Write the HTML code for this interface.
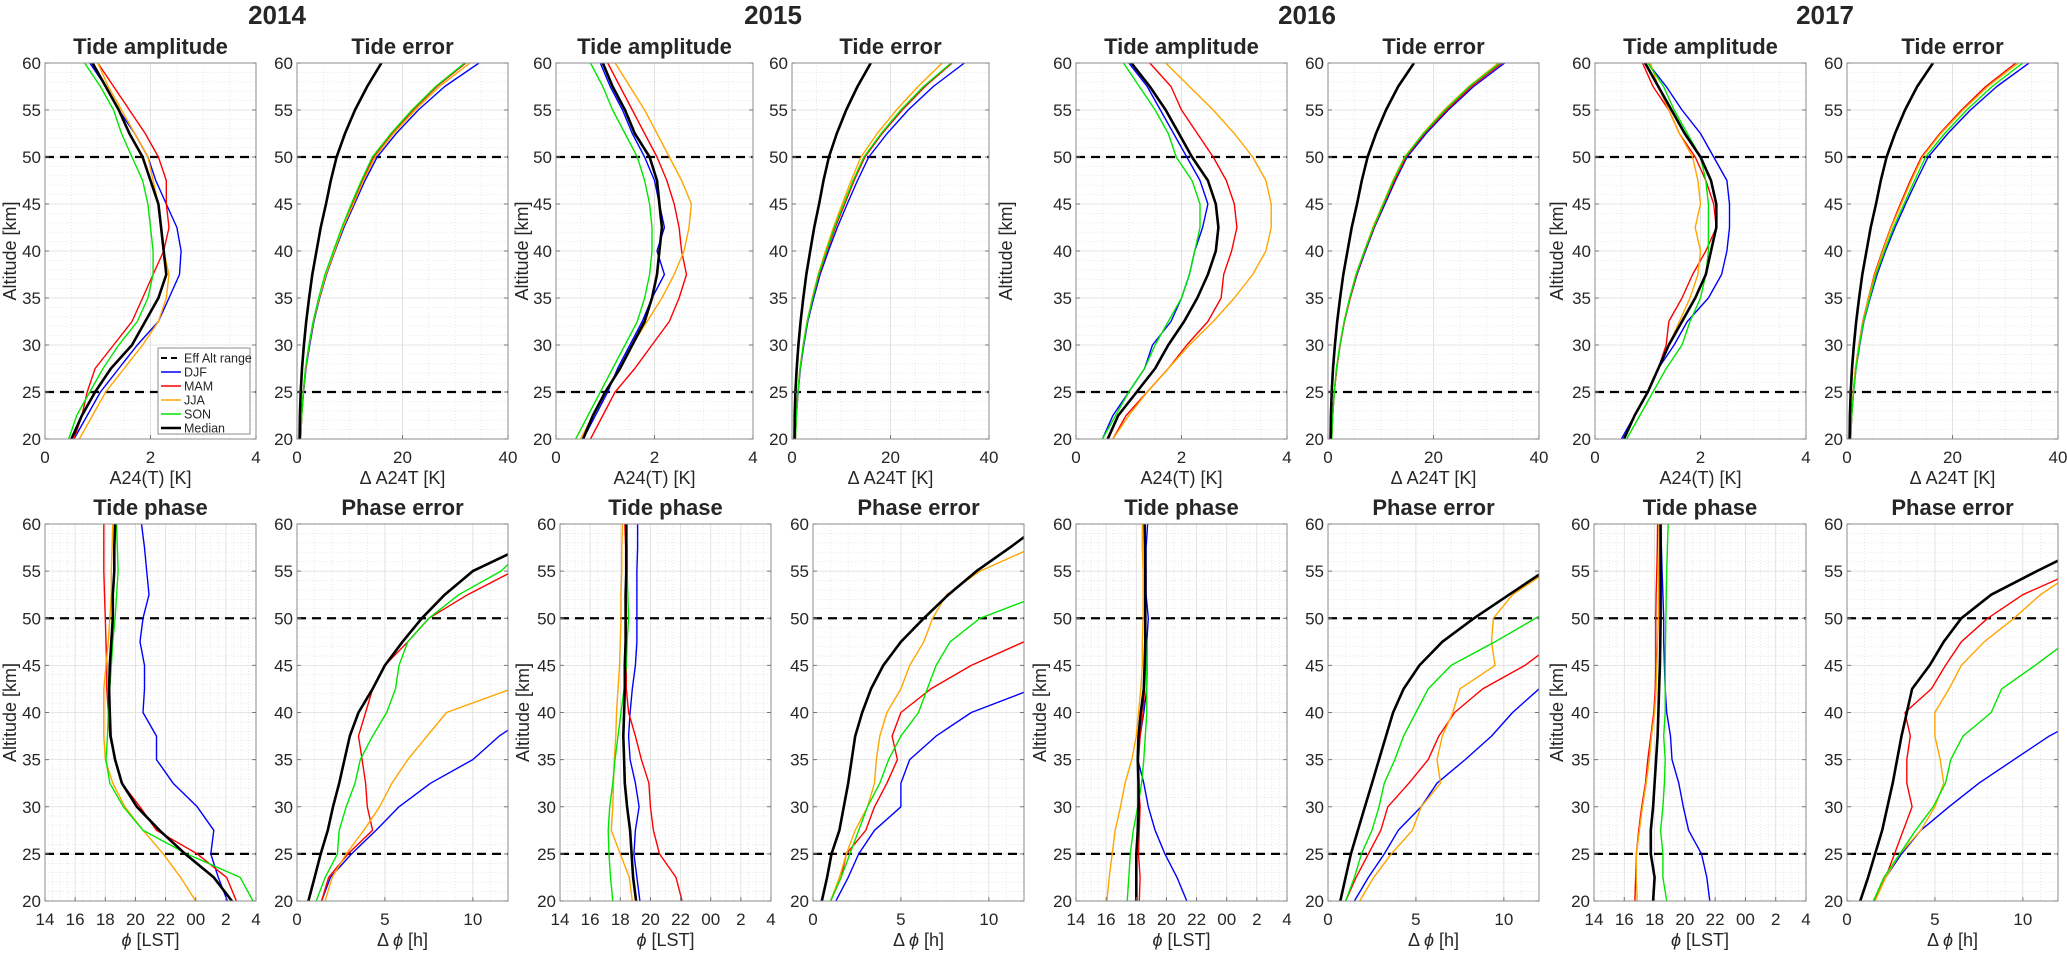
<!DOCTYPE html>
<html><head><meta charset="utf-8"><title>Tide profiles 2014-2017</title>
<style>
html,body{margin:0;padding:0;background:#fff;}
svg text{font-family:"Liberation Sans",sans-serif;fill:#262626;}
</style></head>
<body>
<svg id="fig" width="2067" height="950" viewBox="0 0 2067 950" xmlns="http://www.w3.org/2000/svg"></svg>
<script>
// ---------- data ----------
const alts = [20,22.5,25,27.5,30,32.5,35,37.5,40,42.5,45,47.5,50,52.5,55,57.5,60];
const effAltRange = [25,50];
const seasons = ['DJF','MAM','JJA','SON','Median'];
const years = ['2014','2015','2016','2017'];
const ampTicks = [0,2,4];
const errTicks = [0,20,40];
const phaseTicks = [14,16,18,20,22,24,26,28];
const phaseTickLabels = ['14','16','18','20','22','00','2','4'];
const perrTicks = [0,5,10];
const altTicks = [20,25,30,35,40,45,50,55,60];

// 2014 amplitude
const amp14_djf = [0.55,0.8,1.05,1.4,1.75,2.15,2.35,2.55,2.58,2.5,2.3,2.1,1.95,1.7,1.4,1.15,0.85];
const amp14_mam = [0.55,0.7,0.8,0.95,1.3,1.65,1.85,2.05,2.25,2.35,2.3,2.3,2.15,1.9,1.6,1.3,1.0];
const amp14_jja = [0.65,0.9,1.15,1.5,1.85,2.15,2.3,2.35,2.25,2.2,2.15,2.05,1.95,1.7,1.45,1.2,1.0];
const amp14_son = [0.45,0.6,0.85,1.1,1.4,1.75,1.95,2.05,2.05,2.0,1.95,1.85,1.65,1.45,1.3,1.05,0.75];
const amp14_med = [0.5,0.7,0.95,1.25,1.65,1.9,2.15,2.3,2.25,2.2,2.15,2.0,1.85,1.6,1.4,1.15,0.9];
// 2015 amplitude
const amp15_djf = [0.55,0.8,1.05,1.25,1.5,1.75,1.95,2.2,2.05,2.2,2.1,2.0,1.8,1.55,1.35,1.1,0.9];
const amp15_mam = [0.7,0.95,1.2,1.6,1.95,2.3,2.5,2.65,2.55,2.5,2.4,2.25,2.05,1.8,1.55,1.3,1.05];
const amp15_jja = [0.5,0.75,1.0,1.3,1.55,1.85,2.15,2.4,2.6,2.7,2.75,2.55,2.3,2.05,1.8,1.5,1.2];
const amp15_son = [0.4,0.65,0.9,1.15,1.4,1.65,1.8,1.9,1.95,1.95,1.9,1.8,1.65,1.4,1.15,0.95,0.7];
const amp15_med = [0.55,0.75,1.0,1.3,1.55,1.8,1.95,2.05,2.1,2.15,2.1,2.05,1.9,1.6,1.4,1.15,0.95];
// 2016 amplitude
const amp16_djf = [0.5,0.7,1.0,1.3,1.45,1.8,2.0,2.15,2.25,2.4,2.5,2.35,2.1,1.85,1.6,1.35,1.0];
const amp16_mam = [0.7,0.95,1.35,1.75,2.1,2.5,2.75,2.8,2.95,3.05,3.0,2.85,2.6,2.3,2.0,1.8,1.4];
const amp16_jja = [0.7,1.0,1.35,1.75,2.15,2.6,3.0,3.35,3.6,3.7,3.7,3.6,3.35,3.0,2.6,2.15,1.7];
const amp16_son = [0.5,0.75,1.0,1.3,1.5,1.75,2.0,2.15,2.25,2.35,2.35,2.2,1.9,1.75,1.5,1.2,0.9];
const amp16_med = [0.6,0.8,1.15,1.5,1.75,2.05,2.3,2.5,2.65,2.7,2.65,2.5,2.2,1.95,1.7,1.4,1.05];
// 2017 amplitude
const amp17_djf = [0.5,0.75,1.0,1.2,1.5,1.75,2.15,2.4,2.5,2.55,2.55,2.5,2.25,2.0,1.65,1.35,1.0];
const amp17_mam = [0.55,0.75,1.0,1.2,1.35,1.4,1.65,1.85,2.1,2.3,2.25,2.1,1.9,1.6,1.4,1.1,0.9];
const amp17_jja = [0.55,0.75,1.0,1.2,1.4,1.6,1.8,1.95,2.0,1.9,2.0,1.95,1.85,1.6,1.4,1.2,1.05];
const amp17_son = [0.6,0.85,1.1,1.35,1.65,1.8,2.0,2.1,2.15,2.15,2.15,2.1,2.0,1.75,1.5,1.3,1.0];
const amp17_med = [0.55,0.75,1.0,1.2,1.4,1.65,1.9,2.1,2.2,2.3,2.3,2.2,2.0,1.7,1.45,1.2,0.95];

// amplitude error (all years)
const err14_djf = [0.7,0.9,1.25,1.7,2.4,3.2,4.3,5.6,7.2,8.9,10.9,12.9,15.2,18.8,23,28,34.5];
const err14_mam = [0.7,0.9,1.2,1.65,2.3,3.1,4.2,5.4,7.0,8.6,10.5,12.4,14.5,18,22,26.5,32];
const err14_jja = [0.7,0.9,1.2,1.65,2.3,3.1,4.2,5.5,7.1,8.7,10.7,12.6,14.8,18.3,22.4,27,32.8];
const err14_son = [0.7,0.9,1.2,1.6,2.25,3.05,4.1,5.3,6.9,8.5,10.3,12.2,14.3,17.8,21.8,26.3,31.8];
const err14_med = [0.5,0.55,0.7,0.95,1.3,1.75,2.3,2.9,3.7,4.5,5.5,6.4,7.5,9.1,11,13.3,16];
const err15_djf = [0.7,0.9,1.25,1.7,2.4,3.2,4.4,5.7,7.4,9.2,11.2,13.3,15.6,19.3,23.6,28.7,35];
const err15_mam = [0.7,0.9,1.2,1.65,2.3,3.1,4.2,5.5,7.1,8.8,10.7,12.6,14.8,18.3,22.4,27,32.5];
const err15_jja = [0.7,0.9,1.2,1.6,2.25,3.05,4.1,5.3,6.8,8.4,10.2,12.0,14.0,17.3,21.2,25.6,30.5];
const err15_son = [0.7,0.9,1.2,1.65,2.3,3.1,4.2,5.4,7.0,8.6,10.5,12.4,14.6,18.1,22.1,26.7,32.3];
const err15_med = [0.5,0.55,0.7,0.95,1.3,1.75,2.3,2.9,3.7,4.5,5.5,6.4,7.5,9.1,11,13.3,16];
const err16_djf = [0.7,0.9,1.2,1.65,2.3,3.1,4.2,5.5,7.1,8.8,10.8,12.8,15.0,18.6,22.8,27.6,33.5];
const err16_mam = [0.7,0.9,1.2,1.65,2.3,3.1,4.2,5.4,7.0,8.7,10.6,12.6,14.8,18.3,22.5,27.2,33];
const err16_jja = [0.7,0.9,1.2,1.6,2.25,3.05,4.1,5.3,6.9,8.5,10.4,12.3,14.5,18,22,26.7,32.3];
const err16_son = [0.7,0.9,1.2,1.6,2.25,3.05,4.1,5.3,6.9,8.6,10.5,12.4,14.6,18.1,22.2,26.8,32.6];
const err16_med = [0.5,0.55,0.7,0.95,1.3,1.75,2.3,2.9,3.7,4.5,5.5,6.4,7.5,9.1,11,13.3,16.3];
const err17_djf = [0.7,0.9,1.25,1.7,2.4,3.2,4.4,5.7,7.3,9.1,11.1,13.2,15.4,19.1,23.4,28.4,34.5];
const err17_mam = [0.7,0.9,1.2,1.6,2.25,3.0,4.05,5.2,6.7,8.3,10.1,12.0,14.1,17.6,21.7,26.3,32];
const err17_jja = [0.7,0.9,1.2,1.6,2.25,3.05,4.1,5.3,6.8,8.4,10.3,12.2,14.3,17.8,22,26.7,32.5];
const err17_son = [0.7,0.9,1.25,1.7,2.35,3.15,4.3,5.5,7.1,8.8,10.8,12.8,14.9,18.5,22.7,27.5,33.3];
const err17_med = [0.5,0.55,0.7,0.95,1.3,1.75,2.3,2.9,3.7,4.5,5.5,6.4,7.5,9.1,11,13.3,16.3];

// tide phase (hours, 24 = 00 LST)
const ph14_djf = [26.1,25.5,25.0,25.2,24.1,22.5,21.4,21.4,20.5,20.6,20.6,20.3,20.5,20.9,20.75,20.6,20.4];
const ph14_mam = [26.7,26.05,24.1,21.4,20.3,19.1,18.65,18.3,18.2,18.1,18.1,18.05,18.0,17.95,17.9,17.9,17.9];
const ph14_jja = [24.0,23.0,21.85,20.5,19.3,18.5,18.0,17.9,17.9,17.9,18.05,18.2,18.3,18.4,18.4,18.45,18.5];
const ph14_son = [27.8,26.95,23.4,20.5,19.2,18.3,18.05,18.15,18.2,18.3,18.4,18.5,18.65,18.75,18.85,18.8,18.75];
const ph14_med = [26.4,25.2,23.3,21.6,20.1,19.1,18.65,18.35,18.3,18.25,18.3,18.4,18.5,18.5,18.6,18.6,18.65];
const ph15_djf = [19.3,19.1,18.9,19.0,19.25,19.0,18.65,18.55,18.65,18.8,19.0,19.1,19.1,19.1,19.1,19.15,19.15];
const ph15_mam = [22.1,21.7,20.6,20.2,20.0,19.9,19.4,19.0,18.55,18.4,18.4,18.4,18.4,18.4,18.35,18.35,18.3];
const ph15_jja = [18.8,18.6,18.0,17.4,17.5,17.55,17.6,17.7,17.75,17.85,17.95,18.0,18.05,18.05,18.1,18.1,18.15];
const ph15_son = [17.5,17.35,17.25,17.2,17.3,17.5,17.65,17.85,18.05,18.25,18.4,18.45,18.55,18.5,18.45,18.45,18.4];
const ph15_med = [19.05,18.85,18.75,18.65,18.45,18.3,18.25,18.2,18.25,18.3,18.3,18.35,18.35,18.35,18.4,18.4,18.4];
const ph16_djf = [21.35,20.7,19.9,19.25,18.8,18.5,18.1,18.25,18.5,18.7,18.7,18.7,18.8,18.65,18.65,18.65,18.75];
const ph16_mam = [18.2,18.25,18.15,18.2,18.25,18.15,18.15,18.25,18.45,18.55,18.6,18.6,18.6,18.6,18.6,18.6,18.6];
const ph16_jja = [16.05,16.2,16.4,16.6,16.95,17.25,17.7,18.0,18.15,18.3,18.4,18.4,18.45,18.45,18.45,18.4,18.4];
const ph16_son = [17.4,17.5,17.6,17.8,18.1,18.35,18.5,18.6,18.7,18.7,18.65,18.65,18.6,18.6,18.6,18.58,18.55];
const ph16_med = [18.0,18.0,18.0,18.1,18.15,18.15,18.1,18.15,18.3,18.5,18.55,18.6,18.6,18.6,18.6,18.58,18.55];
const ph17_djf = [21.65,21.45,21.1,20.25,19.9,19.6,19.15,19.05,18.8,18.7,18.65,18.6,18.6,18.55,18.5,18.45,18.4];
const ph17_mam = [16.7,16.75,16.8,16.95,17.15,17.4,17.55,17.75,17.95,18.05,18.08,18.08,18.08,18.1,18.15,18.18,18.2];
const ph17_jja = [16.85,16.8,16.8,17.0,17.2,17.45,17.65,17.8,18.0,18.1,18.15,18.2,18.25,18.25,18.27,18.3,18.3];
const ph17_son = [18.8,18.55,18.55,18.4,18.55,18.65,18.7,18.6,18.7,18.7,18.7,18.72,18.75,18.77,18.8,18.85,18.9];
const ph17_med = [17.9,18.0,17.75,17.75,17.9,18.0,18.1,18.2,18.25,18.3,18.35,18.38,18.4,18.4,18.4,18.4,18.4];

// phase error (hours)
const pe14_djf = [1.4,1.9,3.1,4.5,5.8,7.6,10.0,11.5,13.5,15,16.5,18,19.5,21,22.5,24,25.5];
const pe14_mam = [1.4,1.8,2.9,4.3,4.0,3.9,3.7,3.5,3.9,4.3,5.0,6.3,7.5,9.7,12.3,14,16];
const pe14_jja = [1.6,2.0,2.8,3.8,4.7,5.4,6.3,7.4,8.5,12.2,14,15.5,17,18.5,20,21.5,23];
const pe14_son = [1.1,1.6,2.3,2.4,2.8,3.3,3.6,4.3,5.1,5.6,5.8,6.3,7.5,9.2,11.6,13,15];
const pe14_med = [0.65,1.0,1.35,1.75,2.05,2.4,2.7,3.0,3.5,4.3,5.0,6.0,7.1,8.4,10.0,12.8,15];
const pe15_djf = [1.3,2.0,2.6,3.5,5.0,5.0,5.5,7.0,9.0,12.5,14,16,18,20,22,24,26];
const pe15_mam = [1.0,1.6,1.9,3.0,3.5,4.2,4.8,4.5,5.0,6.7,9.0,12,14,16,18,20,22];
const pe15_jja = [1.0,1.5,1.9,2.4,3.1,3.5,3.6,3.8,4.2,5.0,5.5,6.3,6.8,7.6,9.5,12.5,14];
const pe15_son = [1.0,1.6,2.1,2.6,3.1,3.8,4.3,5.0,6.0,6.5,7.0,7.8,9.5,13,15,17,19];
const pe15_med = [0.5,0.8,1.05,1.5,1.75,2.0,2.2,2.4,2.8,3.3,4.0,5.0,6.3,7.7,9.3,11.2,13];
const pe16_djf = [1.5,2.3,3.2,4.0,5.3,6.2,7.8,9.3,10.5,12,14,16,18,20,22,24,26];
const pe16_mam = [1.0,1.6,2.3,3.0,3.4,4.6,5.7,6.3,7.2,8.8,11.2,13,15,17,19,21,23];
const pe16_jja = [1.8,2.6,3.6,4.8,5.3,6.4,6.2,6.5,7.1,7.5,9.5,9.3,9.4,10.5,12.5,14,16];
const pe16_son = [1.0,1.5,1.9,2.5,2.9,3.2,3.8,4.3,5.0,5.7,7.0,9.5,11.8,14,16,18,20];
const pe16_med = [0.7,1.0,1.3,1.7,2.1,2.5,2.9,3.3,3.7,4.3,5.2,6.5,8.3,10.3,12.3,14,16];
const pe17_djf = [1.5,2.2,3.1,4.2,5.8,7.5,9.5,11.5,14,16,18,20,22,24,26,28,30];
const pe17_mam = [1.5,2.2,2.7,3.2,3.7,3.4,3.4,3.6,3.3,4.8,5.6,6.5,8.0,10,13,15,17];
const pe17_jja = [1.6,2.2,3.0,4.2,5.0,5.5,5.3,5.0,5.0,5.8,6.5,7.8,9.5,11,13,15,17];
const pe17_son = [1.5,2.1,3.0,3.9,4.9,5.6,5.9,6.6,8.2,8.8,10.7,12.5,14,16,18,20,22];
const pe17_med = [0.75,1.2,1.6,2.0,2.3,2.6,2.85,3.1,3.4,3.7,4.7,5.5,6.5,8.2,10.8,13.5,16];

// ---------- drawing ----------
const NS = 'http://www.w3.org/2000/svg';
const svg = document.getElementById('fig');
const colors = ['#0000ff','#ff0000','#ffa500','#00e600','#000000'];
const widths = [1.4,1.4,1.4,1.4,2.6];
let clipId = 0;
function mk(tag, attrs, parent){
  const e = document.createElementNS(NS, tag);
  for (const k in attrs) e.setAttribute(k, attrs[k]);
  (parent||svg).appendChild(e);
  return e;
}
function txt(s, x, y, size, anchor, weight, parent){
  const t = mk('text', {x:x, y:y, 'font-size':size, 'text-anchor':anchor||'middle', 'font-weight':weight||'normal'}, parent);
  t.textContent = s;
  return t;
}

function panel(o){
  const g = mk('g', {});
  
  
  const sx = v => o.x0 + (v - o.xmin) / (o.xmax - o.xmin) * (o.x1 - o.x0);
  const sy = a => o.y1 - (a - 20) / 40 * (o.y1 - o.y0);
  mk('rect', {x:o.x0, y:o.y0, width:o.x1-o.x0, height:o.y1-o.y0, fill:'#fff'}, g);
  // minor grid
  for (let a = 21; a < 60; a++) {
    if (a % 5 === 0) continue;
    mk('line', {x1:o.x0, x2:o.x1, y1:sy(a), y2:sy(a), stroke:'#e3e3e3', 'stroke-width':0.8, 'stroke-dasharray':'1,2'}, g);
  }
  for (let v = o.xmin + o.minor; v < o.xmax - 1e-9; v += o.minor) {
    mk('line', {x1:sx(v), x2:sx(v), y1:o.y0, y2:o.y1, stroke:'#e3e3e3', 'stroke-width':0.8, 'stroke-dasharray':'1,2'}, g);
  }
  // major grid
  altTicks.forEach(a => mk('line', {x1:o.x0, x2:o.x1, y1:sy(a), y2:sy(a), stroke:'#dedede', 'stroke-width':0.8}, g));
  o.ticks.forEach(v => mk('line', {x1:sx(v), x2:sx(v), y1:o.y0, y2:o.y1, stroke:'#dedede', 'stroke-width':0.8}, g));
  // clip
  const cid = 'c' + (clipId++);
  const cp = mk('clipPath', {id:cid}, g);
  mk('rect', {x:o.x0, y:o.y0, width:o.x1-o.x0, height:o.y1-o.y0}, cp);
  const dg = mk('g', {'clip-path':'url(#' + cid + ')'}, g);
  // eff alt range
  effAltRange.forEach(a => {
    const l = mk('line', {x1:o.x0, x2:o.x1, y1:sy(a), y2:sy(a), stroke:'#000', 'stroke-width':2.2, 'stroke-dasharray':'9,6'}, dg);
    
    
  });
  // series
  o.series.forEach((arr, i) => {
    const pts = arr.map((v, k) => sx(v).toFixed(1) + ',' + sy(alts[k]).toFixed(1)).join(' ');
    const pl = mk('polyline', {points:pts, fill:'none', stroke:colors[i], 'stroke-width':widths[i], 'stroke-linejoin':'round'}, dg);
    
    
  });
  // box + ticks
  mk('rect', {x:o.x0, y:o.y0, width:o.x1-o.x0, height:o.y1-o.y0, fill:'none', stroke:'#8c8c8c', 'stroke-width':1}, g);
  altTicks.forEach(a => {
    mk('line', {x1:o.x0, x2:o.x0+4, y1:sy(a), y2:sy(a), stroke:'#777', 'stroke-width':1}, g);
    mk('line', {x1:o.x1-4, x2:o.x1, y1:sy(a), y2:sy(a), stroke:'#777', 'stroke-width':1}, g);
    const t = txt(String(a), o.x0 - 4, sy(a) + 6, 17, 'end', 'normal', g);
    
    
  });
  o.ticks.forEach((v, i) => {
    mk('line', {x1:sx(v), x2:sx(v), y1:o.y1, y2:o.y1-4, stroke:'#777', 'stroke-width':1}, g);
    const t = txt(o.tickLabels[i], sx(v), o.y1 + 24, 17, 'middle', 'normal', g);
    
    
  });
  const ti = txt(o.title, (o.x0 + o.x1) / 2, o.y0 - 9, 22, 'middle', 'bold', g);
  
  
  const xl = mk('text', {x:(o.x0 + o.x1) / 2, y:o.y1 + 45, 'font-size':18, 'text-anchor':'middle'}, g);
  xl.innerHTML = o.xlabel;
  
  
  if (o.ylabX !== undefined) {
    const yc = (o.y0 + o.y1) / 2;
    const yl = txt('Altitude [km]', o.ylabX, yc, 18, 'middle', 'normal', g);
    yl.setAttribute('transform', 'rotate(-90 ' + (o.ylabX) + ' ' + yc + ')');
    yl.setAttribute('dy', '6');
    
    
  }
  return {g, sx, sy};
}

const topPos = [[45,256,297,508],[556,753,792,989],[1076,1287,1328,1539],[1595,1806,1847,2058]];
const botPos = [[45,256,297,508],[560,771,813,1024],[1076,1287,1328,1539],[1594,1806,1847,2058]];
const yearCx = [277,773,1307,1825];
const ylabTop = [10,522,1006,1557];
const ylabBot = [10,523,1040,1557];
const ampSets = [[amp14_djf,amp14_mam,amp14_jja,amp14_son,amp14_med],[amp15_djf,amp15_mam,amp15_jja,amp15_son,amp15_med],[amp16_djf,amp16_mam,amp16_jja,amp16_son,amp16_med],[amp17_djf,amp17_mam,amp17_jja,amp17_son,amp17_med]];
const errSets = [[err14_djf,err14_mam,err14_jja,err14_son,err14_med],[err15_djf,err15_mam,err15_jja,err15_son,err15_med],[err16_djf,err16_mam,err16_jja,err16_son,err16_med],[err17_djf,err17_mam,err17_jja,err17_son,err17_med]];
const phSets = [[ph14_djf,ph14_mam,ph14_jja,ph14_son,ph14_med],[ph15_djf,ph15_mam,ph15_jja,ph15_son,ph15_med],[ph16_djf,ph16_mam,ph16_jja,ph16_son,ph16_med],[ph17_djf,ph17_mam,ph17_jja,ph17_son,ph17_med]];
const peSets = [[pe14_djf,pe14_mam,pe14_jja,pe14_son,pe14_med],[pe15_djf,pe15_mam,pe15_jja,pe15_son,pe15_med],[pe16_djf,pe16_mam,pe16_jja,pe16_son,pe16_med],[pe17_djf,pe17_mam,pe17_jja,pe17_son,pe17_med]];

years.forEach((yr, i) => {
  const yt = txt(yr, yearCx[i], 24, 26, 'middle', 'bold');
  
  
  const tp = topPos[i], bp = botPos[i];
  panel({name:'amplitude-panel-' + yr, x0:tp[0], x1:tp[1], y0:63, y1:439, xmin:0, xmax:4, minor:0.5, ticks:ampTicks, tickLabels:ampTicks.map(String), title:'Tide amplitude', xlabel:'A24(T) [K]', ylabX:ylabTop[i], series:ampSets[i]});
  panel({name:'amp-error-panel-' + yr, x0:tp[2], x1:tp[3], y0:63, y1:439, xmin:0, xmax:40, minor:5, ticks:errTicks, tickLabels:errTicks.map(String), title:'Tide error', xlabel:'\u0394 A24T [K]', series:errSets[i]});
  panel({name:'phase-panel-' + yr, x0:bp[0], x1:bp[1], y0:524, y1:901, xmin:14, xmax:28, minor:0.5, ticks:phaseTicks, tickLabels:phaseTickLabels, title:'Tide phase', xlabel:'<tspan font-style="italic">\u03d5</tspan> [LST]', ylabX:ylabBot[i], series:phSets[i]});
  panel({name:'phase-error-panel-' + yr, x0:bp[2], x1:bp[3], y0:524, y1:901, xmin:0, xmax:12, minor:1, ticks:perrTicks, tickLabels:perrTicks.map(String), title:'Phase error', xlabel:'\u0394 <tspan font-style="italic">\u03d5</tspan> [h]', series:peSets[i]});
});

// legend in 2014 amplitude panel
const leg = mk('g', {});


mk('rect', {x:158, y:348, width:92, height:86, fill:'#fff', stroke:'#8c8c8c', 'stroke-width':1}, leg);
const legLabels = ['Eff Alt range','DJF','MAM','JJA','SON','Median'];
legLabels.forEach((lab, k) => {
  const y = 358 + k * 14;
  const e = mk('g', {}, leg);
  
  
  if (k === 0) mk('line', {x1:161, x2:181, y1:y, y2:y, stroke:'#000', 'stroke-width':2, 'stroke-dasharray':'6,4'}, e);
  else mk('line', {x1:161, x2:181, y1:y, y2:y, stroke:colors[k-1], 'stroke-width':widths[k-1]}, e);
  txt(lab, 184, y + 4.5, 12.5, 'start', 'normal', e);
});
</script>
</body></html>
